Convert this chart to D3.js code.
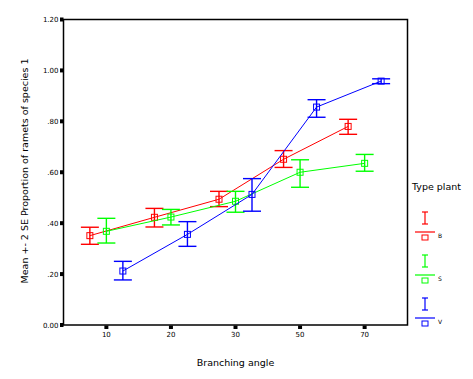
<!DOCTYPE html>
<html>
<head>
<meta charset="utf-8">
<script src="https://cdn.jsdelivr.net/npm/d3@7"></script>
<style>
  body { margin: 0; background: #fff; }
  text { font-family: "DejaVu Sans", sans-serif; }
</style>
</head>
<body>
<div id="chart"></div>
<script>
// data
const angles = ["10", "20", "30", "50", "70"];
const types = ["B", "S", "V"];
const typeColors = ["#ff0000", "#00ff00", "#0000ff"];

const bMean = [0.351, 0.423, 0.494, 0.651, 0.780];
const bLow  = [0.317, 0.385, 0.465, 0.619, 0.749];
const bHigh = [0.384, 0.458, 0.525, 0.685, 0.808];

const sMean = [0.368, 0.424, 0.486, 0.600, 0.635];
const sLow  = [0.322, 0.393, 0.443, 0.541, 0.604];
const sHigh = [0.419, 0.454, 0.525, 0.649, 0.670];

const vMean = [0.212, 0.356, 0.513, 0.856, 0.958];
const vLow  = [0.177, 0.309, 0.447, 0.816, 0.948];
const vHigh = [0.250, 0.406, 0.575, 0.885, 0.967];

const yTicks = [0, 0.2, 0.4, 0.6, 0.8, 1.0, 1.2];
const yTickLabels = ["0.00", ".20", ".40", ".60", ".80", "1.00", "1.20"];

// 1: layout
const W = 473, H = 379;
const plot = { left: 63.5, top: 19.5, right: 407.5, bottom: 325 };

const svg = d3.select("#chart").append("svg")
    .attr("width", W)
    .attr("height", H);

// 2: scales
const x = d3.scalePoint()
    .domain(angles)
    .range([plot.left, plot.right])
    .padding(0.664);

const offset = d3.scalePoint()
    .domain(types)
    .range([-16.5, 16.5]);

const y = d3.scaleLinear()
    .domain([0, 1.2])
    .range([plot.bottom, plot.top]);

const color = d3.scaleOrdinal().domain(types).range(typeColors);

const series = [
    { type: "B", mean: bMean, low: bLow, high: bHigh },
    { type: "S", mean: sMean, low: sLow, high: sHigh },
    { type: "V", mean: vMean, low: vLow, high: vHigh }
].map(s => ({
    type: s.type,
    values: angles.map((a, i) => ({ angle: a, mean: s.mean[i], low: s.low[i], high: s.high[i] }))
}));

// 3: frame
svg.append("rect")
    .attr("x", plot.left)
    .attr("y", plot.top)
    .attr("width", plot.right - plot.left)
    .attr("height", plot.bottom - plot.top)
    .attr("fill", "none")
    .attr("stroke", "#000")
    .attr("stroke-width", 1.5);

// y axis: square tick marks + labels
const yAxis = svg.append("g").attr("transform", `translate(${plot.left},0)`);
yAxis.selectAll("rect")
    .data(yTicks)
    .join("rect")
    .attr("x", -3.5)
    .attr("y", d => y(d) - 2)
    .attr("width", 3.5)
    .attr("height", 4)
    .attr("fill", "#000");
yAxis.selectAll("text")
    .data(yTicks)
    .join("text")
    .attr("x", -5)
    .attr("y", d => y(d) + 2.5)
    .attr("text-anchor", "end")
    .attr("font-size", "7px")
    .text((d, i) => yTickLabels[i]);

// x axis
const xAxis = svg.append("g").attr("transform", `translate(0,${plot.bottom})`);
xAxis.selectAll("rect")
    .data(angles)
    .join("rect")
    .attr("x", d => x(d) - 2)
    .attr("y", 0.5)
    .attr("width", 4)
    .attr("height", 3.5)
    .attr("fill", "#000");
xAxis.selectAll("text")
    .data(angles)
    .join("text")
    .attr("x", d => x(d))
    .attr("y", 12)
    .attr("text-anchor", "middle")
    .attr("font-size", "7px")
    .text(d => d);

// axis titles
svg.append("text")
    .attr("x", (plot.left + plot.right) / 2)
    .attr("y", 366)
    .attr("text-anchor", "middle")
    .attr("font-size", "9.5px")
    .text("Branching angle");

svg.append("text")
    .attr("transform", "rotate(-90)")
    .attr("x", -171)
    .attr("y", 28)
    .attr("text-anchor", "middle")
    .attr("font-size", "9.5px")
    .text("Mean +- 2 SE Proportion of ramets of species 1");

// 4: lines, error bars and boxes
const px = (t, d) => x(d.angle) + offset(t);
const line = d3.line();
const cap = 9;

series.forEach(s => {
    const g = svg.append("g");
    const c = color(s.type);

    g.append("path")
        .datum(s.values)
        .attr("fill", "none")
        .attr("stroke", c)
        .attr("stroke-width", 1)
        .attr("d", line.x(d => px(s.type, d)).y(d => y(d.mean)));

    const eb = g.selectAll(".eb")
        .data(s.values)
        .join("g")
        .attr("class", "eb")
        .attr("stroke", c)
        .attr("stroke-width", 1.4);
    eb.append("line")
        .attr("x1", d => px(s.type, d)).attr("x2", d => px(s.type, d))
        .attr("y1", d => y(d.low)).attr("y2", d => y(d.high));
    eb.append("line")
        .attr("x1", d => px(s.type, d) - cap).attr("x2", d => px(s.type, d) + cap)
        .attr("y1", d => y(d.high)).attr("y2", d => y(d.high));
    eb.append("line")
        .attr("x1", d => px(s.type, d) - cap).attr("x2", d => px(s.type, d) + cap)
        .attr("y1", d => y(d.low)).attr("y2", d => y(d.low));

    g.selectAll(".box")
        .data(s.values)
        .join("rect")
        .attr("class", "box")
        .attr("x", d => px(s.type, d) - 3)
        .attr("y", d => y(d.mean) - 3)
        .attr("width", 6)
        .attr("height", 6)
        .attr("fill", "none")
        .attr("stroke", c)
        .attr("stroke-width", 1);
});

// 5: legend
const legend = svg.append("g").attr("transform", "translate(412,0)");
legend.append("text")
    .attr("x", 0)
    .attr("y", 190)
    .attr("font-size", "9.5px")
    .text("Type plant");

types.forEach((t, i) => {
    const row = legend.append("g")
        .attr("transform", `translate(0,${212 + i * 43})`)
        .attr("stroke", color(t));
    row.append("line").attr("x1", 13).attr("x2", 13).attr("y1", 0).attr("y2", 12).attr("stroke-width", 1.2);
    row.append("line").attr("x1", 10).attr("x2", 16).attr("y1", 0).attr("y2", 0).attr("stroke-width", 1.2);
    row.append("line").attr("x1", 10).attr("x2", 16).attr("y1", 12).attr("y2", 12).attr("stroke-width", 1.2);
    row.append("line").attr("x1", 3).attr("x2", 23).attr("y1", 20).attr("y2", 20).attr("stroke-width", 1.2);
    row.append("rect").attr("x", 10).attr("y", 23).attr("width", 6).attr("height", 5).attr("fill", "none");
    row.append("text")
        .attr("x", 26)
        .attr("y", 25.5)
        .attr("stroke", "none")
        .attr("fill", "#000")
        .attr("font-size", "6px")
        .text(t);
});
</script>
</body>
</html>
